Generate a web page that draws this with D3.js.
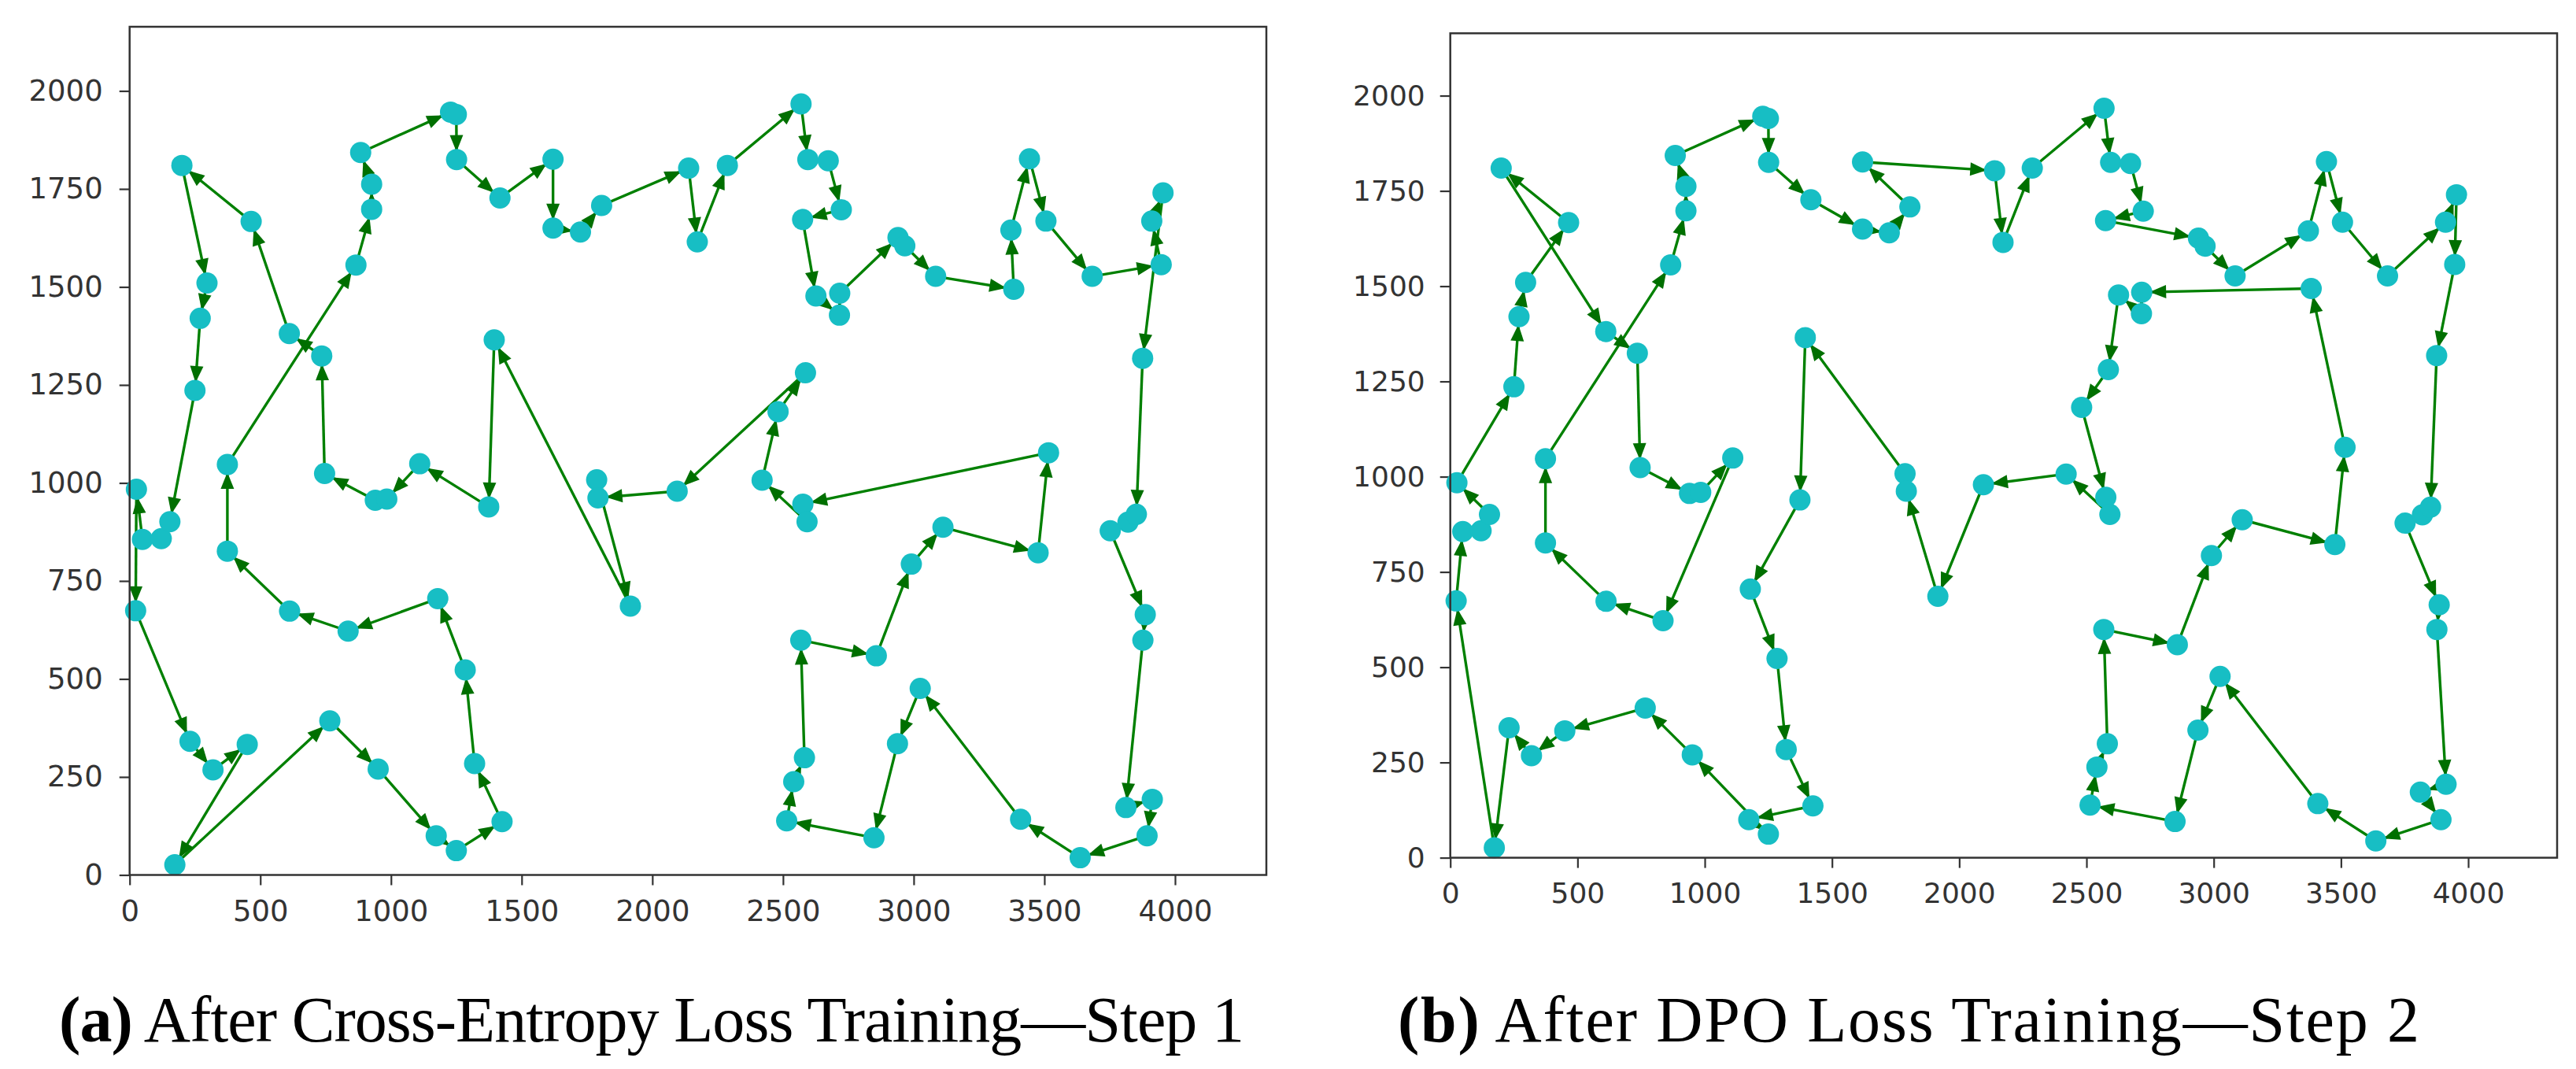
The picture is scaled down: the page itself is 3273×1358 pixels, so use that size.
<!DOCTYPE html>
<html>
<head>
<meta charset="utf-8">
<script src="https://cdn.jsdelivr.net/npm/d3@7"></script>
<style>
  html, body { margin: 0; padding: 0; background: #ffffff; }
  svg { display: block; }
</style>
</head>
<body>
<svg id="chart" width="3273" height="1358"></svg>
<script>
// ---------------- DATA ----------------
// City coordinates (same 100 cities in both panels)
const cityX = [200, 465, 296, 270, 250, 26, 49, 121, 154, 611,
               735, 374, 374, 866, 926, 926, 884, 1228, 1250, 1251,
               1417, 1620, 1620, 1725, 1806, 1395, 1374, 1110, 940, 984,
               746, 1787, 1792, 2095, 2139, 2172, 2287, 2569, 2595, 2673,
               2723, 2575, 2626, 2717, 2716, 2940, 2966, 3084, 3383, 3372,
               3443, 3506, 3683, 3947, 3911, 3954, 3876, 3752, 3820, 3852,
               2586, 2481, 2420, 2576, 2592, 3516, 3112, 3476, 2991, 23,
               612, 836, 1179, 1284, 1320, 1425, 1250, 1173, 951, 766,
               173, 450, 319, 231, 1916, 2857, 2568, 2582, 2541, 2514,
               2848, 2938, 3025, 3409, 3637, 3893, 3913, 3812, 3877, 3886];
const cityY = [1810, 1667, 1510, 1420, 1236, 984, 856, 858, 901, 1381,
               1324, 1047, 826, 1556, 1698, 1762, 1843, 1946, 1940, 1825,
               1727, 1826, 1650, 1640, 1708, 1365, 939, 1049, 956, 959,
               1024, 1008, 962, 979, 1803, 1615, 1810, 1967, 1825, 1822,
               1697, 1672, 1477, 1484, 1428, 1626, 1605, 1527, 1494, 1645,
               1827, 1668, 1527, 1557, 1668, 1740, 1318, 878, 900, 920,
               1281, 1182, 1007, 946, 901, 1077, 887, 822, 793, 674,
               673, 622, 705, 523, 284, 136, 62, 100, 270, 393,
               26, 333, 268, 341, 686, 559, 599, 299, 238, 138,
               95, 335, 476, 142, 44, 100, 193, 172, 599, 664];

// Visiting order (indices into the city arrays)
const tourCrossEntropy = [0, 2, 3, 4, 8, 7, 6, 5, 69, 83, 82, 81, 80, 79, 78, 77, 76, 75, 74, 73,
  72, 71, 70, 12, 11, 13, 14, 15, 16, 17, 18, 19, 20, 21, 22, 23, 24, 34, 35, 36,
  37, 38, 39, 40, 41, 42, 44, 43, 45, 46, 47, 48, 49, 50, 51, 52, 53, 54, 55, 56,
  59, 58, 57, 99, 98, 97, 96, 95, 94, 93, 92, 91, 90, 89, 88, 87, 86, 85, 68, 66,
  67, 65, 63, 64, 62, 61, 60, 33, 32, 31, 84, 25, 26, 27, 29, 28, 30, 10, 9, 1];
const tourDPO = [5, 4, 3, 2, 1, 0, 9, 10, 30, 28, 29, 27, 71, 70, 12, 11, 13, 14, 15, 16,
  17, 18, 19, 20, 22, 23, 24, 21, 34, 35, 36, 37, 38, 39, 40, 41, 45, 46, 47, 49,
  50, 51, 52, 54, 55, 53, 56, 59, 58, 57, 99, 98, 96, 97, 95, 94, 93, 92, 91, 90,
  89, 88, 87, 86, 85, 68, 66, 67, 65, 48, 43, 44, 42, 60, 61, 63, 64, 62, 33, 84,
  32, 31, 25, 26, 72, 73, 74, 75, 77, 76, 78, 79, 81, 82, 83, 80, 69, 6, 7, 8];

const xTickValues = [0, 500, 1000, 1500, 2000, 2500, 3000, 3500, 4000];
const yTickValues = [0, 250, 500, 750, 1000, 1250, 1500, 1750, 2000];
const captionTags = ["(a)", "(b)"];
const captionTexts = [" After Cross-Entropy Loss Training\u2014Step 1", " After DPO Loss Training\u2014Step 2"];

// ---------------- LAYOUT ----------------
const panels = [
  { tour: tourCrossEntropy, left: 164.7, right: 1609, top: 34, bottom: 1111.5, font: 37, pad: 19, ypad: 21 },
  { tour: tourDPO,          left: 1842.7, right: 3249, top: 42.3, bottom: 1089.6, font: 36, pad: 19, ypad: 19 }
];
const COLORS = { line: "#008000", head: "#006f00", dot: "#17bec4", axis: "#333333" };

const svg = d3.select("#chart");
const xMax = d3.max(cityX) * 1.1;
const yMax = d3.max(cityY) * 1.1;

panels.forEach((p, pi) => {
  const x = d3.scaleLinear().domain([0, xMax]).range([p.left, p.right]);
  const y = d3.scaleLinear().domain([0, yMax]).range([p.bottom, p.top]);
  const g = svg.append("g");

  // axes
  const xAxis = d3.axisBottom(x).tickValues(xTickValues).tickSizeInner(13).tickSizeOuter(0).tickPadding(p.pad).tickFormat(d3.format("d"));
  const yAxis = d3.axisLeft(y).tickValues(yTickValues).tickSizeInner(13).tickSizeOuter(0).tickPadding(p.ypad).tickFormat(d3.format("d"));
  const gx = g.append("g").attr("transform", `translate(0,${p.bottom})`).call(xAxis);
  const gy = g.append("g").attr("transform", `translate(${p.left},0)`).call(yAxis);
  [gx, gy].forEach(a => {
    a.select(".domain").remove();
    a.selectAll(".tick line").attr("stroke", COLORS.axis).attr("stroke-width", 2.2);
    a.selectAll(".tick text").attr("fill", COLORS.axis)
      .style("font-family", "'DejaVu Sans', sans-serif").style("font-size", p.font + "px");
  });

  // tour edges
  const pts = p.tour.map(i => [x(cityX[i]), y(cityY[i])]);
  const edges = pts.map((a, k) => [a, pts[(k + 1) % pts.length]]);
  g.append("g").selectAll("line").data(edges).join("line")
    .attr("x1", d => d[0][0]).attr("y1", d => d[0][1])
    .attr("x2", d => d[1][0]).attr("y2", d => d[1][1])
    .attr("stroke", COLORS.line).attr("stroke-width", 3.4);

  // arrow heads near the target city
  const heads = edges.filter(d => Math.hypot(d[1][0] - d[0][0], d[1][1] - d[0][1]) > 22);
  g.append("g").selectAll("path").data(heads).join("path")
    .attr("d", d => {
      const dx = d[1][0] - d[0][0], dy = d[1][1] - d[0][1];
      const L = Math.hypot(dx, dy), ux = dx / L, uy = dy / L;
      const tipOff = 10, hl = 21, hw = 8.5;
      const tx = d[1][0] - ux * tipOff, ty = d[1][1] - uy * tipOff;
      const bx = tx - ux * hl, by = ty - uy * hl;
      return `M${tx},${ty}L${bx - uy * hw},${by + ux * hw}L${bx + uy * hw},${by - ux * hw}Z`;
    })
    .attr("fill", COLORS.head);

  // cities
  g.append("g").selectAll("circle").data(cityX.map((v, i) => i)).join("circle")
    .attr("cx", i => x(cityX[i])).attr("cy", i => y(cityY[i]))
    .attr("r", 13.5).attr("fill", COLORS.dot);

  // frame
  g.append("rect").attr("x", p.left).attr("y", p.top)
    .attr("width", p.right - p.left).attr("height", p.bottom - p.top)
    .attr("fill", "none").attr("stroke", COLORS.axis).attr("stroke-width", 2.5);
});

// captions (Palatino-like look: fixed size, widened by letter spacing to the measured widths)
const capCenters = [828, 2425];
const capWidths = [1505, 1300];
const capFont = 82;
captionTags.forEach((tag, i) => {
  const t = svg.append("text")
    .attr("x", capCenters[i]).attr("y", 1323)
    .attr("text-anchor", "middle")
    .style("font-family", "'Liberation Serif', 'DejaVu Serif', serif")
    .style("font-size", capFont + "px").attr("fill", "#000");
  t.append("tspan").style("font-weight", "bold").text(tag);
  t.append("tspan").text(captionTexts[i]);
  const w = t.node().getComputedTextLength();
  const n = (tag + captionTexts[i]).length;
  const ls = (capWidths[i] - w) / n;
  t.style("letter-spacing", ls + "px");
  // recentre (letter-spacing adds trailing space after the last glyph)
  t.attr("x", capCenters[i] + ls / 2);
});
</script>
</body>
</html>
